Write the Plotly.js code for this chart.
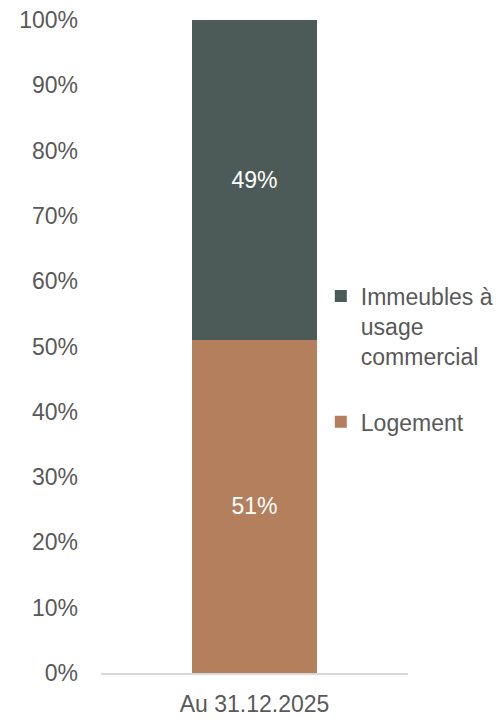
<!DOCTYPE html>
<html><head><meta charset="utf-8">
<script src="https://cdn.plot.ly/plotly-3.0.1.min.js"></script>
<style>html,body{margin:0;padding:0;background:#fff}#chart{width:501px;height:719px}</style>
</head><body><div id="chart"></div>
<script>
const categories = ['Au 31.12.2025'];
const seriesNames = ['Logement', 'Immeubles à<br>usage<br>commercial'];
const logement = [51];
const commercial = [49];
const colors = ['#b47f5d', '#4d5b58'];
const FONT = 'Liberation Sans, Arial, sans-serif';
const FS = 23;

const traces = [
  {type:'bar', name:seriesNames[0], x:categories, y:logement, marker:{color:colors[0]},
   text:logement.map(v=>v+'%'), textposition:'inside', insidetextanchor:'middle',
   textfont:{color:'#ffffff', size:FS, family:FONT}, constraintext:'none',
   width:0.404, legendgroup:'g2', legendrank:2, hoverinfo:'skip'},
  {type:'bar', name:seriesNames[1], x:categories, y:commercial, marker:{color:colors[1]},
   text:commercial.map(v=>v+'%'), textposition:'inside', insidetextanchor:'middle',
   textfont:{color:'#ffffff', size:FS, family:FONT}, constraintext:'none',
   width:0.404, legendgroup:'g1', legendrank:1, hoverinfo:'skip'}
];
const layout = {
  width:501, height:719, barmode:'stack',
  margin:{l:101, r:93, t:20, b:46, autoexpand:false},
  paper_bgcolor:'#ffffff', plot_bgcolor:'#ffffff',
  font:{family:FONT, size:FS, color:'#595959'},
  showlegend:true,
  legend:{x:0.716, y:0.61, xanchor:'left', yanchor:'top', traceorder:'grouped',
    tracegroupgap:33, valign:'top', itemwidth:30, font:{size:FS, color:'#595959', family:FONT}},
  xaxis:{showline:true, linecolor:'#d9d9d9', linewidth:1.5, showgrid:false, zeroline:false,
    ticks:'', ticklabelstandoff:10, tickfont:{size:FS, color:'#595959'}, fixedrange:true},
  yaxis:{range:[0,100], dtick:10, ticksuffix:'%', showgrid:false, zeroline:false, showline:false,
    ticks:'', ticklabelstandoff:22, tickfont:{size:FS, color:'#595959'}, fixedrange:true}
};
Plotly.newPlot('chart', traces, layout, {displayModeBar:false, staticPlot:true});
</script></body></html>
